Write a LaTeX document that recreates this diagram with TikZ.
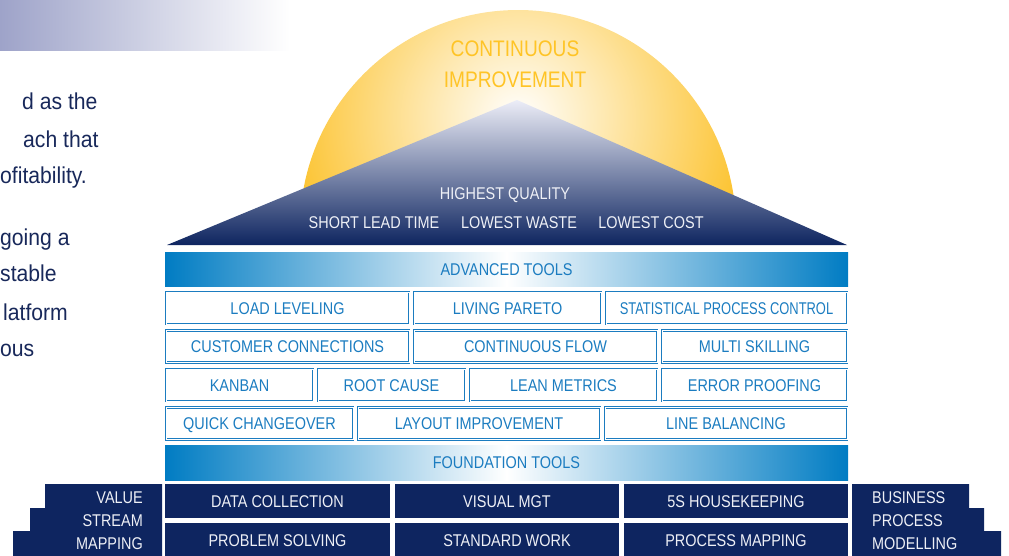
\documentclass[tikz,border=0pt]{standalone}
\usepackage{fontspec}
\setmainfont{Liberation Sans}
\newfontfamily\narrowfont{Liberation Sans}[FakeStretch=0.85]
\newfontfamily\tightfont{Liberation Sans}[FakeStretch=0.76]
\newfontfamily\copyfont{Liberation Sans}[FakeStretch=0.92]
\newcommand\toolfont{\narrowfont\fontsize{17}{23}\selectfont}
\newcommand\sunfont{\narrowfont\fontsize{22.5}{31}\selectfont}
\newcommand\bodyfont{\copyfont\fontsize{23}{27}\selectfont}
\definecolor{navy}{RGB}{14,37,96}
\definecolor{bodynavy}{RGB}{24,40,90}
\definecolor{toolblue}{RGB}{27,124,192}
\definecolor{bandblue}{RGB}{0,124,195}
\definecolor{haze}{RGB}{158,163,201}
\definecolor{sunyellow}{RGB}{252,194,44}
\definecolor{sungold}{RGB}{255,196,38}
\definecolor{mtop}{RGB}{236,237,247}
\definecolor{mmid}{RGB}{98,106,160}
\definecolor{paper}{RGB}{238,240,246}
\begin{document}
\begin{tikzpicture}[x=1pt,y=-1pt,
  tool/.style={draw=toolblue,double=white,double distance=0.6pt,line width=1.1pt,
    text=toolblue,inner sep=0pt,minimum height=32pt,text height=12.2pt,text depth=0pt,font=\toolfont},
  found/.style={fill=navy,text=paper,inner sep=0pt,minimum height=34pt,
    text height=12.2pt,text depth=0pt,font=\toolfont},
  band/.style={left color=bandblue,right color=bandblue,middle color=white,
    text=toolblue,inner sep=0pt,minimum width=683pt,text height=12.2pt,text depth=0pt,font=\toolfont},
  peak/.style={text=paper,text height=12.2pt,text depth=0pt,font=\toolfont},
  body/.style={text=bodynavy,anchor=base west,inner sep=0pt,font=\bodyfont}]
  \useasboundingbox (0,0) rectangle (1009,555);
  \shade[left color=haze,right color=white] (0,0) rectangle (290,50);
  \node[body] (t1) at (22,109) {d as the};
  \node[body] (t2) at (23,147) {ach that};
  \node[body] (t3) at (0,183) {ofitability.};
  \node[body] (t4) at (0,245) {going a};
  \node[body] (t5) at (0,281) {stable};
  \node[body] (t6) at (3,320) {latform};
  \node[body] (t7) at (0,356) {ous};
  \begin{scope}
    \clip (0,0) rectangle (1009,240);
    \clip (518,228) circle (218pt);
    \shade[inner color=white,outer color=sunyellow] (518,118) circle (235pt);
  \end{scope}
  \node[text=sungold,font=\sunfont] (ci1) at (515,49) {CONTINUOUS};
  \node[text=sungold,font=\sunfont] (ci2) at (515,80) {IMPROVEMENT};
  \shade[top color=mtop,middle color=mmid,bottom color=navy]
    (167,245) -- (517,100) -- (847,245) -- cycle;
  \node[peak] (hq) at (505,193) {HIGHEST QUALITY};
  \node[peak] (slt) at (374,222) {SHORT LEAD TIME};
  \node[peak] (lw) at (519,222) {LOWEST WASTE};
  \node[peak] (lc) at (651,222) {LOWEST COST};
  \node[band,minimum height=34pt] (adv) at (506.5,269) {ADVANCED TOOLS};
  \node[tool,minimum width=243pt] (load) at (287.5,308) {LOAD LEVELING};
  \node[tool,minimum width=187pt] (pareto) at (507.5,308) {LIVING PARETO};
  \node[tool,minimum width=241pt,font=\tightfont\fontsize{17}{23}\selectfont] (spc) at (726.5,308) {STATISTICAL PROCESS CONTROL};
  \node[tool,minimum width=243pt] (cust) at (287.5,346.5) {CUSTOMER CONNECTIONS};
  \node[tool,minimum width=243pt] (flow) at (535.5,346.5) {CONTINUOUS FLOW};
  \node[tool,minimum width=185pt] (multi) at (754.5,346.5) {MULTI SKILLING};
  \node[tool,minimum width=147pt] (kanban) at (239.5,385) {KANBAN};
  \node[tool,minimum width=147pt] (root) at (391.5,385) {ROOT CAUSE};
  \node[tool,minimum width=187pt] (metrics) at (563.5,385) {LEAN METRICS};
  \node[tool,minimum width=185pt] (error) at (754.5,385) {ERROR PROOFING};
  \node[tool,minimum width=187pt] (quick) at (259.5,423.5) {QUICK CHANGEOVER};
  \node[tool,minimum width=242pt] (layout) at (479,423.5) {LAYOUT IMPROVEMENT};
  \node[tool,minimum width=242pt] (line) at (726,423.5) {LINE BALANCING};
  \node[band,minimum height=35pt] (fnd) at (506.5,462.5) {FOUNDATION TOOLS};
  \node[found,minimum width=225pt] (data) at (277.5,501) {DATA COLLECTION};
  \node[found,minimum width=224pt] (visual) at (507,501) {VISUAL MGT};
  \node[found,minimum width=224pt] (fives) at (736,501) {5S HOUSEKEEPING};
  \node[found,minimum width=225pt] (solve) at (277.5,540) {PROBLEM SOLVING};
  \node[found,minimum width=224pt] (std) at (507,540) {STANDARD WORK};
  \node[found,minimum width=224pt] (pmap) at (736,540) {PROCESS MAPPING};
  \fill[navy] (162,484) -- (45,484) -- (45,508) -- (30,508) -- (30,531)
    -- (13,531) -- (13,557) -- (162,557) -- cycle;
  \fill[navy] (852,484) -- (969,484) -- (969,508) -- (984,508) -- (984,531)
    -- (1001,531) -- (1001,557) -- (852,557) -- cycle;
  \node[text=paper,font=\toolfont,align=right,anchor=east,inner sep=0pt] (vsm) at (143,521) {VALUE\\STREAM\\MAPPING};
  \node[text=paper,font=\toolfont,align=left,anchor=west,inner sep=0pt] (bpm) at (872,521) {BUSINESS\\PROCESS\\MODELLING};
\end{tikzpicture}
\end{document}
